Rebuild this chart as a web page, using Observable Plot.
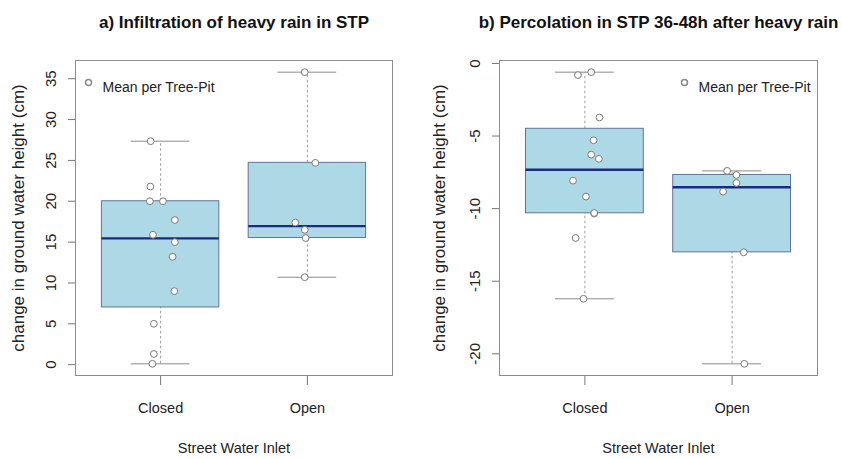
<!DOCTYPE html>
<html>
<head>
<meta charset="utf-8">
<script src="https://cdn.jsdelivr.net/npm/d3@7"></script>
<script src="https://cdn.jsdelivr.net/npm/@observablehq/plot@0.6"></script>
<style>
  html, body { margin: 0; padding: 0; background: #fff; }
  #wrap { display: flex; width: 842px; height: 459px; overflow: hidden; }
  svg { overflow: visible; }
</style>
</head>
<body>
<div id="wrap"></div>
<script>
// ---------- text ----------
const groups = ["Closed", "Open"];
const groupPos = [1, 2];
const titleA = "a) Infiltration of heavy rain in STP";
const titleB = "b) Percolation in STP 36-48h after heavy rain";
const yLabel = "change in ground water height (cm)";
const xLabel = "Street Water Inlet";
const legendLabel = "Mean per Tree-Pit";

// ---------- panel a: infiltration ----------
const aClosed = [27.35, 21.8, 20.0, 20.0, 17.7, 15.9, 15.0, 13.2, 9.0, 5.0, 1.3, 0.1];
const aClosedJitter = [-0.068, -0.070, -0.073, 0.016, 0.097, -0.052, 0.097, 0.082, 0.093, -0.046, -0.046, -0.056];
const aOpen = [35.8, 24.7, 17.4, 16.5, 15.5, 10.7];
const aOpenJitter = [-0.018, 0.054, -0.082, -0.018, -0.012, -0.018];
const aLow = [0.1, 10.7];
const aQ1 = [7.0, 15.5];
const aMedian = [15.45, 16.95];
const aQ3 = [20.0, 24.7];
const aHigh = [27.35, 35.8];
const aTicks = [0, 5, 10, 15, 20, 25, 30, 35];

// ---------- panel b: percolation ----------
const bClosed = [-0.80, -0.60, -3.72, -5.29, -6.28, -6.57, -8.07, -9.17, -10.34, -10.30, -12.02, -16.21];
const bClosedJitter = [-0.047, 0.043, 0.099, 0.059, 0.043, 0.095, -0.081, 0.007, 0.063, 0.063, -0.063, -0.009];
const bOpen = [-7.40, -7.68, -8.23, -8.83, -13.01, -20.69];
const bOpenJitter = [-0.034, 0.029, 0.029, -0.061, 0.079, 0.083];
const bLow = [-16.21, -20.69];
const bQ1 = [-10.32, -13.01];
const bMedian = [-7.32, -8.53];
const bQ3 = [-4.5, -7.68];
const bHigh = [-0.6, -7.40];
const bTicks = [0, -5, -10, -15, -20];

const sans = "'Liberation Sans', Arial, Helvetica, sans-serif";

function padDomain(lo, hi) {
  const e = (hi - lo) * 0.04;
  return [lo - e, hi + e];
}

function panel(o) {
  const boxes = groups.map((g, i) => ({
    group: g, pos: groupPos[i],
    low: o.low[i], q1: o.q1[i], median: o.median[i], q3: o.q3[i], high: o.high[i]
  }));
  const points = [];
  o.values.forEach((arr, gi) => arr.forEach((v, j) => points.push({
    group: groups[gi], pos: groupPos[gi], jitter: o.jitters[gi][j], value: v
  })));
  const allVals = o.low.concat(o.high);
  const yDomain = padDomain(Math.min(...allVals), Math.max(...allVals));
  const boxHalf = 0.4, capHalf = 0.2;

  return Plot.plot({
    width: 421,
    height: 459,
    marginTop: 60,
    marginBottom: 84,
    marginLeft: o.marginLeft,
    marginRight: o.marginRight,
    x: { domain: [0.42, 2.58] },
    y: { domain: yDomain },
    style: { fontFamily: sans, fontSize: "14.5px", color: "#222", background: "#fff" },
    marks: [
      // whiskers
      Plot.ruleX(boxes, { x: "pos", y1: "q3", y2: "high", stroke: "#9a9a9a", strokeDasharray: "2.5,2.5" }),
      Plot.ruleX(boxes, { x: "pos", y1: "low", y2: "q1", stroke: "#9a9a9a", strokeDasharray: "2.5,2.5" }),
      // staples
      Plot.ruleY(boxes, { y: "high", x1: d => d.pos - capHalf, x2: d => d.pos + capHalf, stroke: "#8a8a8a" }),
      Plot.ruleY(boxes, { y: "low", x1: d => d.pos - capHalf, x2: d => d.pos + capHalf, stroke: "#8a8a8a" }),
      // boxes
      Plot.rect(boxes, { x1: d => d.pos - boxHalf, x2: d => d.pos + boxHalf, y1: "q1", y2: "q3", fill: "#add8e6", stroke: "#63739a", strokeWidth: 1 }),
      // medians
      Plot.ruleY(boxes, { y: "median", x1: d => d.pos - boxHalf, x2: d => d.pos + boxHalf, stroke: "#1c2a86", strokeWidth: 2.4 }),
      // tree-pit means
      Plot.dot(points, { x: d => d.pos + d.jitter, y: "value", r: 3.4, fill: "white", stroke: "#7a7a7a", strokeWidth: 1 }),
      // legend
      Plot.dot([legendLabel], { frameAnchor: "top-left", dx: o.legendDx, dy: 22, r: 3, fill: "none", stroke: "#888" }),
      Plot.text([legendLabel], { text: d => d, frameAnchor: "top-left", dx: o.legendDx + 14, dy: 22, textAnchor: "start", fontSize: 14, fill: "#222" }),
      // title
      Plot.text([o.title], { text: d => d, frameAnchor: "top", dy: -45, fontWeight: "bold", fontSize: 17, fill: "#111" }),
      // y-axis title
      Plot.text([yLabel], { text: d => d, frameAnchor: "left", dx: -(o.marginLeft - 18), rotate: -90, textAnchor: "middle", lineAnchor: "middle", fontSize: 17, fill: "#222" }),
      // axes
      Plot.axisX({ ticks: groupPos, tickFormat: d => groups[d - 1], tickSize: 10, tickPadding: 17, stroke: "#777", fill: "#222", fontSize: 14.5, label: xLabel, labelAnchor: "center", labelOffset: 77, labelArrow: "none" }),
      Plot.axisY({ ticks: o.ticks, tickFormat: d => String(d).replace("\u2212", "-"), tickSize: 7, tickPadding: 13, tickRotate: -90, stroke: "#777", fill: "#222", fontSize: 15, label: null }),
      Plot.frame({ stroke: "#8c8c8c" })
    ]
  });
}

const wrap = document.getElementById("wrap");
wrap.appendChild(panel({
  title: titleA,
  values: [aClosed, aOpen], jitters: [aClosedJitter, aOpenJitter],
  low: aLow, q1: aQ1, median: aMedian, q3: aQ3, high: aHigh,
  ticks: aTicks, marginLeft: 75, marginRight: 29, legendDx: 13
}));
wrap.appendChild(panel({
  title: titleB,
  values: [bClosed, bOpen], jitters: [bClosedJitter, bOpenJitter],
  low: bLow, q1: bQ1, median: bMedian, q3: bQ3, high: bHigh,
  ticks: bTicks, marginLeft: 78, marginRight: 25, legendDx: 185
}));
</script>
</body>
</html>
